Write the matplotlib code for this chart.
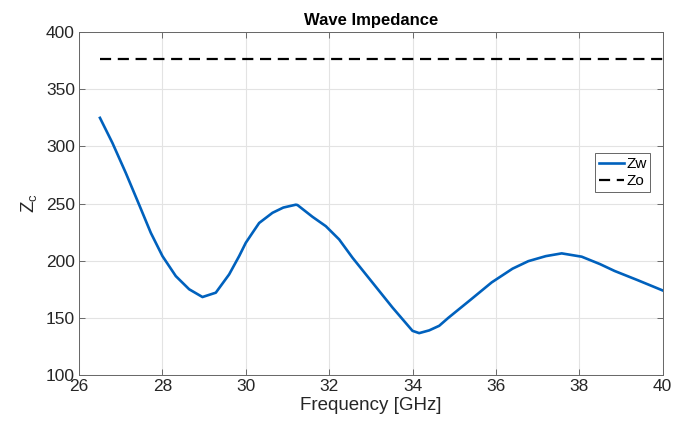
import matplotlib.pyplot as plt

plt.rcParams['font.family'] = ['Liberation Sans', 'DejaVu Sans']

# values
freq = [26.5, 26.8, 27.12, 27.44, 27.72, 28.0, 28.32, 28.64, 28.96, 29.28, 29.6,
        29.84, 30.0, 30.16, 30.32, 30.64, 30.9, 31.2, 31.24, 31.6, 31.92, 32.24,
        32.56, 33.04, 33.52, 34.0, 34.16, 34.4, 34.64, 34.86, 35.4, 35.9, 36.4,
        36.78, 37.2, 37.58, 38.06, 38.5, 38.85, 39.4, 40.0]
zw = [325, 303, 276.8, 249, 224.4, 204, 186.5, 175, 168.2, 172, 188,
      204, 215.7, 224.4, 233, 241.9, 246.5, 249, 248.7, 238.4, 230.2, 218.6,
      202.6, 180.8, 159, 138.6, 136.6, 139, 143, 150, 166, 181, 193,
      199.6, 204, 206.4, 203.5, 197, 191, 183, 174]
zo_freq = [26.5, 40.0]
zo = [376.7, 376.7]

fig = plt.figure(figsize=(6.88, 4.29), dpi=100)
ax = fig.add_axes([0.115, 0.126, 0.848, 0.799])

ax.plot(freq, zw, color='#0061bd', lw=1.9, label='Zw')
ax.plot(zo_freq, zo, color='black', lw=1.6, ls=(0, (5, 3)), label='Zo')

ax.set_xlim(26, 40)
ax.set_ylim(100, 400)
ax.set_xticks(range(26, 41, 2))
ax.set_yticks(range(100, 401, 50))
ax.grid(True, color='#e3e3e3', lw=0.8)
ax.tick_params(direction='in', labelsize=12.5, labelcolor='#262626', color='#555555',
               length=4, width=0.6, top=True, right=True, pad=3)
for s in ax.spines.values():
    s.set_color('#666666')
    s.set_linewidth(0.7)

ax.set_xlabel('Frequency [GHz]', fontsize=13.5, color='#262626', labelpad=2)
ax.set_ylabel('Z$_\\mathregular{c}$', fontsize=13.5, color='#262626', labelpad=4)
ax.set_title('Wave Impedance', fontsize=12, fontweight='bold', pad=5)

leg = ax.legend(loc='upper left', bbox_to_anchor=(0.885, 0.647), fontsize=11,
                handlelength=1.6, handletextpad=0.15, borderpad=0.25,
                labelspacing=0.2, fancybox=False, framealpha=1, borderaxespad=0)
leg.get_frame().set_edgecolor('#666666')
leg.get_frame().set_linewidth(0.7)

fig.savefig('out.png', dpi=100)
